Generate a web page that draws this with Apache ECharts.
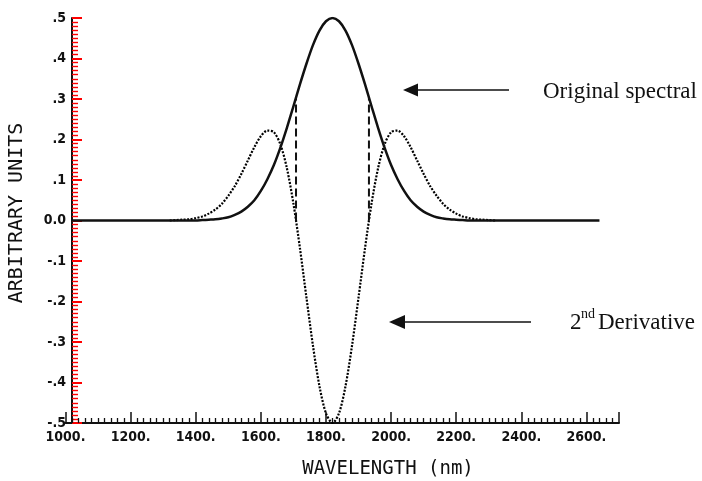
<!DOCTYPE html>
<html>
<head>
<meta charset="utf-8">
<script src="https://cdn.jsdelivr.net/npm/echarts@6/dist/echarts.min.js"></script>
<style>
  html, body { margin: 0; padding: 0; background: #fff; }
  #chart { width: 702px; height: 481px; }
</style>
</head>
<body>
<div id="chart"></div>
<script>
// Original absorption band (arbitrary units) against wavelength in nm
const spectralNm = [1020, 1400, 1420, 1440, 1460, 1480, 1500, 1520, 1540, 1560, 1580,
  1600, 1620, 1640, 1660, 1680, 1700, 1720, 1740, 1760, 1780, 1800, 1820,
  1840, 1860, 1880, 1900, 1920, 1940, 1960, 1980, 2000, 2020, 2040, 2060,
  2080, 2100, 2120, 2140, 2160, 2180, 2200, 2220, 2240, 2640];
const spectralAu = [0, 0.000, 0.001, 0.002, 0.003, 0.005, 0.008, 0.014, 0.022, 0.034, 0.050,
  0.073, 0.102, 0.137, 0.180, 0.229, 0.282, 0.336, 0.387, 0.433, 0.469, 0.492, 0.500,
  0.492, 0.469, 0.433, 0.387, 0.336, 0.282, 0.229, 0.180, 0.137, 0.102, 0.073, 0.050,
  0.034, 0.022, 0.014, 0.008, 0.005, 0.003, 0.002, 0.001, 0.000, 0];

// Second derivative of the band
const derivNm = [1320, 1340, 1360, 1380, 1400, 1420, 1440, 1460, 1480, 1500, 1520,
  1540, 1560, 1580, 1600, 1620, 1640, 1660, 1680, 1700, 1720, 1740, 1760,
  1780, 1800, 1820, 1840, 1860, 1880, 1900, 1920, 1940, 1960, 1980, 2000,
  2020, 2040, 2060, 2080, 2100, 2120, 2140, 2160, 2180, 2200, 2220, 2240,
  2260, 2280, 2300, 2320];
const derivAu = [0.000, 0.001, 0.002, 0.003, 0.006, 0.010, 0.017, 0.027, 0.041, 0.061, 0.085,
  0.115, 0.148, 0.181, 0.208, 0.222, 0.218, 0.188, 0.129, 0.042, -0.068, -0.190, -0.309,
  -0.409, -0.476, -0.500, -0.476, -0.409, -0.309, -0.190, -0.068, 0.042, 0.129, 0.188, 0.218,
  0.222, 0.208, 0.181, 0.148, 0.115, 0.085, 0.061, 0.041, 0.027, 0.017, 0.010, 0.006,
  0.003, 0.002, 0.001, 0.000];

// Inflection points of the band (zero crossings of the derivative)
const inflectionNm = [1708, 1932];
const inflectionAu = [0.303, 0.303];

// Tick labels
const wavelengthLabels = ['1000.', '1200.', '1400.', '1600.', '1800.', '2000.', '2200.', '2400.', '2600.'];
const unitLabels = ['-.5', '-.4', '-.3', '-.2', '-.1', '0.0', '.1', '.2', '.3', '.4', '.5'];

const INK = '#111';
const tickFont = "'DejaVu Sans Condensed', 'DejaVu Sans Mono', monospace";
const plotFont = "'DejaVu Sans Mono', monospace";
const serif = "'Liberation Serif', 'Times New Roman', serif";
const AXIS_START = 1000;

const pairs = (xs, ys) => xs.map((x, i) => [x, ys[i]]);

const dashSeries = inflectionNm.map((nm, i) => ({
  type: 'line',
  data: [[nm, 0], [nm, inflectionAu[i]]],
  symbol: 'none',
  lineStyle: { color: INK, width: 2, type: [8, 4] },
  z: 3,
  silent: true
}));

const chart = echarts.init(document.getElementById('chart'), null, { renderer: 'canvas' });

// One plotting frame; the vertical axis is shifted right onto 1020 nm so the
// 1000 nm label sits just left of it.
chart.setOption({
  animation: false,
  backgroundColor: '#fff',
  grid: { left: 65.5, top: 18, width: 553.5, height: 405 },
  xAxis: {
    type: 'value', min: AXIS_START, max: 2700, interval: 200,
    axisLine: { show: true, onZero: false, lineStyle: { color: INK, width: 2 } },
    axisTick: { show: true, inside: true, length: 11, lineStyle: { color: INK, width: 1.5 } },
    minorTick: { show: true, splitNumber: 10, length: 5, lineStyle: { color: INK, width: 1.3 } },
    axisLabel: {
      margin: 7, color: INK, fontFamily: tickFont, fontWeight: 'bold', fontSize: 14,
      formatter: (v, i) => wavelengthLabels[i] || ''
    },
    splitLine: { show: false }
  },
  yAxis: {
    type: 'value', min: -0.5, max: 0.5, interval: 0.1, offset: -6.5,
    axisLine: { show: true, onZero: false, lineStyle: { color: INK, width: 2 } },
    axisTick: { show: true, inside: true, length: 10, lineStyle: { color: 'red', width: 2 } },
    minorTick: { show: true, splitNumber: 10, length: 6, lineStyle: { color: 'red', width: 1.4 } },
    axisLabel: {
      margin: 6, color: INK, fontFamily: tickFont, fontWeight: 'bold', fontSize: 14,
      formatter: (v, i) => unitLabels[i]
    },
    splitLine: { show: false }
  },
  series: [
    {
      type: 'line',
      data: pairs(derivNm, derivAu),
      symbol: 'none', smooth: 0.3,
      lineStyle: { color: '#000', width: 2.2, type: [2, 1.5] },
      z: 2, silent: true
    },
    ...dashSeries,
    {
      type: 'line',
      data: pairs(spectralNm, spectralAu),
      symbol: 'none', smooth: 0.3,
      lineStyle: { color: INK, width: 2.5 },
      z: 4, silent: true
    }
  ],
  graphic: [
    {
      type: 'text', x: 17, y: 213, rotation: Math.PI / 2,
      style: { text: 'ARBITRARY UNITS', fill: INK, font: '20px ' + plotFont, align: 'center', verticalAlign: 'middle' }
    },
    {
      type: 'text', x: 388, y: 469,
      style: { text: 'WAVELENGTH (nm)', fill: INK, font: '19px ' + plotFont, align: 'center', verticalAlign: 'middle' }
    },
    { type: 'line', shape: { x1: 416, y1: 90, x2: 509, y2: 90 }, style: { stroke: INK, lineWidth: 1.5 } },
    { type: 'polygon', shape: { points: [[403, 90], [418, 83.5], [418, 96.5]] }, style: { fill: INK } },
    {
      type: 'text', x: 543, y: 92,
      style: { text: 'Original spectral', fill: INK, font: '23px ' + serif, align: 'left', verticalAlign: 'middle' }
    },
    { type: 'line', shape: { x1: 402, y1: 322, x2: 531, y2: 322 }, style: { stroke: INK, lineWidth: 1.5 } },
    { type: 'polygon', shape: { points: [[389, 322], [405, 315], [405, 329]] }, style: { fill: INK } },
    {
      type: 'text', x: 570, y: 323,
      style: { text: '2', fill: INK, font: '23px ' + serif, align: 'left', verticalAlign: 'middle' }
    },
    {
      type: 'text', x: 581, y: 314,
      style: { text: 'nd', fill: INK, font: '14px ' + serif, align: 'left', verticalAlign: 'middle' }
    },
    {
      type: 'text', x: 598, y: 323,
      style: { text: 'Derivative', fill: INK, font: '23px ' + serif, align: 'left', verticalAlign: 'middle' }
    }
  ]
});
</script>
</body>
</html>
